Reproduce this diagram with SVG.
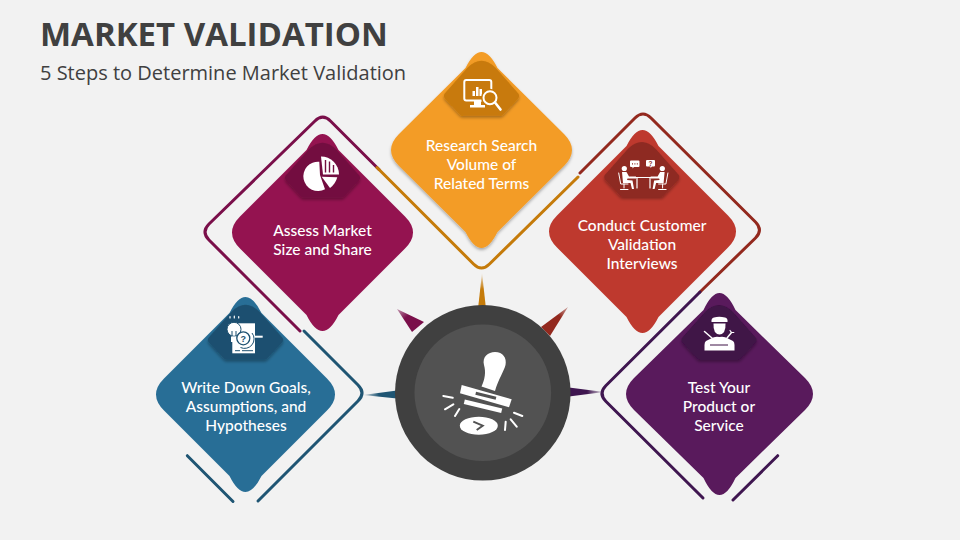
<svg xmlns="http://www.w3.org/2000/svg" width="960" height="540" viewBox="0 0 960 540">
<style>
.t{font-family:"Open Sans","Liberation Sans",sans-serif;fill:#404040}
.l{font-family:Lato,"Liberation Sans",sans-serif;font-size:15.5px;font-weight:500;fill:#fff;text-anchor:middle}
.o{fill:none;stroke-width:3;stroke-linecap:round;stroke-linejoin:round}
.w{fill:#fff}
.s{fill:none;stroke:#fff;stroke-linecap:round;stroke-linejoin:round}
</style>
<defs>
<filter id="sh" x="-20%" y="-20%" width="140%" height="140%"><feDropShadow dx="0" dy="2" stdDeviation="1.5" flood-color="#000" flood-opacity=".3"/></filter>
<path id="hex" d="M-37,33Q-38.5,36-36,38.5L-22,53.5Q-20.5,55-18.5,55L18.5,55Q20.5,55 22,53.5L36,38.5Q38.5,36 37,33L14,7Q0,-7-14,7Z"/>
<linearGradient id="g1" gradientUnits="userSpaceOnUse" x1="482" y1="273" x2="482" y2="305"><stop offset="0" stop-color="#C57B0A" stop-opacity=".1"/><stop offset=".5" stop-color="#C57B0A"/></linearGradient>
<linearGradient id="g2" gradientUnits="userSpaceOnUse" x1="397" y1="309" x2="418" y2="332"><stop offset="0" stop-color="#7A0F4A" stop-opacity=".4"/><stop offset=".4" stop-color="#7A0F4A"/></linearGradient>
<linearGradient id="g3" gradientUnits="userSpaceOnUse" x1="568" y1="307" x2="546" y2="330"><stop offset="0" stop-color="#93291E" stop-opacity=".4"/><stop offset=".4" stop-color="#93291E"/></linearGradient>
<linearGradient id="g4" gradientUnits="userSpaceOnUse" x1="363" y1="395" x2="395" y2="394"><stop offset="0" stop-color="#1F5573" stop-opacity=".1"/><stop offset=".5" stop-color="#1F5573"/></linearGradient>
<linearGradient id="g5" gradientUnits="userSpaceOnUse" x1="604" y1="392" x2="570" y2="392"><stop offset="0" stop-color="#3F1650" stop-opacity=".1"/><stop offset=".5" stop-color="#3F1650"/></linearGradient>
</defs>
<rect width="960" height="540" fill="#F2F2F2"/>
<text class="t" x="40" y="46" font-size="33" font-weight="700">MARKET VALIDATION</text>
<text class="t" x="40" y="80" font-size="20">5 Steps to Determine Market Validation</text>

<g id="connectors">
<path class="o" stroke="#7A0F4A" d="M379,169.5L330.7,121.2Q322.7,113.2 314.7,121.2L209,224Q201,232 209,240L300,331"/>
<path class="o" stroke="#C57B0A" d="M377,167.5L473.5,264Q481.5,272 489.5,264L578,177"/>
<path class="o" stroke="#93291E" d="M580,173L635,118Q643,110 651,118L755.5,222Q763.5,230 755.5,238L700,292"/>
<path class="o" stroke="#1F5573" d="M304,331L358,385Q366,393 358,401L258,501"/>
<path class="o" stroke="#1F5573" d="M187.3,455.7L233,501.5"/>
<path class="o" stroke="#3F1650" d="M700,292L606,385.5Q598,393.5 606,401.5L703,498"/>
<path class="o" stroke="#3F1650" d="M777.7,455.7L733,500"/>
<polygon fill="url(#g1)" points="482,273 478.3,306 485.7,306"/>
<polygon fill="url(#g2)" points="397,309 412,332 424,322"/>
<polygon fill="url(#g3)" points="568,307 541,327 550,336"/>
<polygon fill="url(#g4)" points="363,395 397,390.5 397,398.5"/>
<polygon fill="url(#g5)" points="604,392 569,387.5 569,396.5"/>
</g>

<g id="node-hub">
<circle cx="482.8" cy="392.8" r="87.8" fill="#404040"/>
<circle cx="482.8" cy="392.8" r="68.3" fill="#525252"/>
<path class="w" d="M481.5,386.5C485,379 486,372 484,365C482,357 488,352 495,352C503,352 507,358 505.5,365C504,371 498,380 495,391Z"/>
<polygon class="w" points="461.7,385 511.7,399.3 509,407.3 460,393.3"/>
<path d="M475.7,393.3L496,398.3" stroke="#525252" stroke-width="3"/>
<path d="M464.3,401.7L501.7,410.7" stroke="#fff" stroke-width="4.5"/>
<ellipse class="w" cx="478.8" cy="425.7" rx="19" ry="9"/>
<path d="M473.3,421.7L482.7,425.7L476.7,430" fill="none" stroke="#525252" stroke-width="2"/>
<path class="s" stroke-width="2" d="M443.3,396L452.7,397.7M445,409.3L453.3,404.3M455,416L459.3,409M505,430L505.7,421.7M516.7,426.7L510.7,419.3M522.3,416L514,412.7"/>
</g>

<g id="node-research">
<path fill="#F39C27" filter="url(#sh)" d="M465.5,68Q481.5,36 497.5,68L564,134Q580,150 564,166L497.5,232Q481.5,264 465.5,232L399,166Q383,150 399,134Z"/>
<use href="#hex" x="481.5" y="60.7" fill="#C87A0A" filter="url(#sh)"/>
<rect x="464.3" y="80" width="27" height="20.5" rx="2" fill="none" stroke="#fff" stroke-width="2"/>
<path class="w" d="M474,100H481V105H485V107.5H470V105H474ZM472.5,96H475V91H472.5ZM476,96H478.5V87H476ZM479.5,96H482V89H479.5Z"/>
<circle cx="490" cy="97.7" r="9" fill="#C87A0A"/>
<circle cx="490" cy="97.7" r="6.5" fill="none" stroke="#fff" stroke-width="2"/>
<path class="s" stroke-width="2.6" d="M495,102.5L500.5,109.5"/>
<text class="l"><tspan x="481.5" y="150.7">Research Search</tspan><tspan x="481.5" y="169.7">Volume of</tspan><tspan x="481.5" y="188.7">Related Terms</tspan></text>
</g>

<g id="node-assess">
<path fill="#941350" d="M306.5,150Q322.5,118 338.5,150L405,216.5Q421,232.5 405,248.5L338.5,315Q322.5,347 306.5,315L240,248.5Q224,232.5 240,216.5Z"/>
<use href="#hex" x="322.5" y="142.7" fill="#730F40" filter="url(#sh)"/>
<path class="w" d="M319.3,161.7A14.7,14.7 0 1 0 325,189.3L320,175Z"/>
<path class="w" d="M321.7,176.7L337.3,177.3Q335.5,184 330,188Z"/>
<path class="w" d="M321,156.5A18,18 0 0 1 339,174.5L323,174.5Z"/>
<path d="M325.5,160V172.5M329.5,161.5V172.5M333.5,165V172.5" stroke="#730F40" stroke-width="1.4"/>
<text class="l"><tspan x="322.5" y="235.7">Assess Market</tspan><tspan x="322.5" y="254.7">Size and Share</tspan></text>
</g>

<g id="node-conduct">
<path fill="#BE392E" d="M626.5,146Q642.5,114 658.5,146L728,215.5Q744,231.5 728,247.5L658.5,317Q642.5,349 626.5,317L557,247.5Q541,231.5 557,215.5Z"/>
<use href="#hex" x="641.8" y="142" fill="#8E2A22" filter="url(#sh)"/>
<g id="person">
<circle class="w" cx="624.3" cy="168.5" r="2.6"/>
<path class="w" d="M622,172H626.5L629,176.5H636V178.5H627.5L627,180L632.5,180.5L634,189H632L630.5,183H623Z"/>
<path class="s" stroke-width="1" d="M618.7,173L620.7,184H628M624,184V188M620.5,189.5H628"/>
</g>
<use href="#person" transform="translate(1286.6,0) scale(-1,1)"/>
<path class="s" stroke-width="1.2" d="M636,177.5H651M637,178V188M650,178V188"/>
<path class="w" d="M631,160.5H638.5Q639.5,160.5 639.5,161.5V166Q639.5,167 638.5,167H634L632.5,168.5V167H631Q630,167 630,166V161.5Q630,160.5 631,160.5Z"/>
<path class="w" d="M647,160H654Q655,160 655,161V165.5Q655,166.5 654,166.5H652L650.5,168V166.5H647Q646,166.5 646,165.5V161Q646,160 647,160Z"/>
<path d="M632,163.8H633M634.4,163.8H635.4M636.8,163.8H637.8" stroke="#8E2A22" stroke-width="1.2"/>
<text x="650.5" y="165.8" font-family="Liberation Sans,sans-serif" font-size="6.5" font-weight="700" fill="#8E2A22" text-anchor="middle">?</text>
<text class="l"><tspan x="642" y="230.7">Conduct Customer</tspan><tspan x="642" y="249.7">Validation</tspan><tspan x="642" y="268.7">Interviews</tspan></text>
</g>

<g id="node-write">
<path fill="#286E96" d="M229.5,313Q245.5,281 261.5,313L327,378.5Q343,394.5 327,410.5L261.5,476Q245.5,508 229.5,476L164,410.5Q148,394.5 164,378.5Z"/>
<use href="#hex" x="245.5" y="304.7" fill="#1D5070" filter="url(#sh)"/>
<rect class="w" x="232.3" y="323.3" width="22.7" height="30"/>
<circle cx="234" cy="329.3" r="7" fill="#fff" stroke="#1D5070"/>
<path d="M232,331V336M236,331V336" stroke="#1D5070" stroke-width="1"/>
<path class="w" d="M231,336.5H237V342H231Z"/>
<circle cx="243.3" cy="338.3" r="6.5" fill="#fff" stroke="#1D5070" stroke-width="1.3"/>
<path d="M240.5,347.5A9.5,9.5 0 0 0 252,333" fill="none" stroke="#1D5070" stroke-width="1"/>
<text x="243.3" y="341.5" font-family="Liberation Sans,sans-serif" font-size="9" font-weight="700" fill="#1D5070" text-anchor="middle">?</text>
<path class="w" d="M255,335.7H262.7V337.7H255Z"/>
<path d="M235,350.7H240M242,350.7H253" stroke="#1D5070" stroke-width="1"/>
<path class="s" stroke-width="1.2" d="M230,316.5V318M234.3,316V318M238.7,316.5V318"/>
<text class="l"><tspan x="246" y="393">Write Down Goals,</tspan><tspan x="246" y="412">Assumptions, and</tspan><tspan x="246" y="431">Hypotheses</tspan></text>
</g>

<g id="node-test">
<path fill="#591A5C" d="M703.5,310Q719.5,276 735.5,310L805,378Q821,394 805,410L735.5,478Q719.5,512 703.5,478L634,410Q618,394 634,378Z"/>
<use href="#hex" x="719" y="305" fill="#3F1346" filter="url(#sh)"/>
<path class="w" d="M711.5,322Q711,318 714,317.5Q719,316 725,317.5Q728,318 727.5,322Z"/>
<path class="w" d="M713.5,323.5H725.5Q726,334 719.5,334.5Q713,334 713.5,323.5Z"/>
<path class="w" d="M711,338.5Q715,336 719.5,337Q724,336 728,338.5L733,341Q734.5,342 734.5,345V350.5H704.5V345Q704.5,342 706,341Z"/>
<path d="M710,345H728" stroke="#3F1346" stroke-width="1"/>
<path class="s" stroke-width="1.5" d="M704.5,331.5L712.5,338.5M727,338L731.5,332.5"/>
<path class="s" stroke-width="1.2" d="M730,330.5L731.5,332.5L733.8,332.5"/>
<text class="l"><tspan x="719" y="393.3">Test Your</tspan><tspan x="719" y="412.3">Product or</tspan><tspan x="719" y="431.3">Service</tspan></text>
</g>
</svg>
